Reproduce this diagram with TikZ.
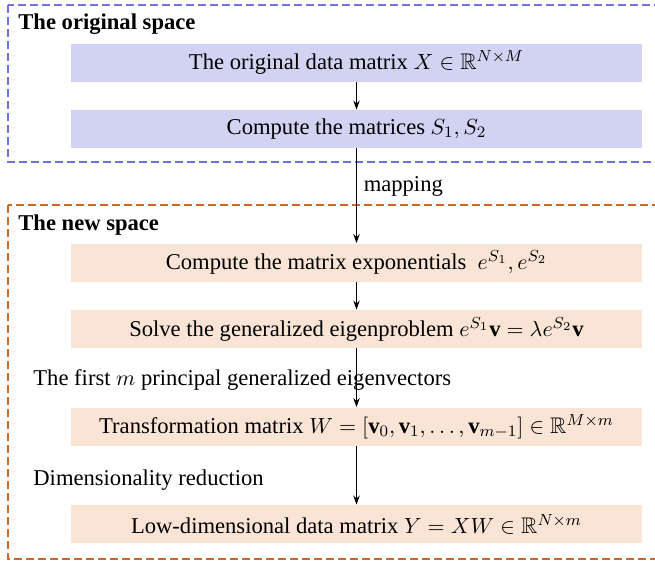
\documentclass[tikz,border=0pt]{standalone}
\usepackage{amsmath,amssymb}
\usepackage{fontspec}
\setmainfont{Liberation Serif}
\usetikzlibrary{arrows.meta, positioning}

\definecolor{origLine}{RGB}{112,112,226}
\definecolor{origFill}{RGB}{210,210,243}
\definecolor{newLine}{RGB}{206,104,36}
\definecolor{newFill}{RGB}{250,228,214}

\begin{document}
\begin{tikzpicture}[
        x=0.5pt, y=-0.5pt,
        every node/.style={
            font=\fontsize{11.3}{13.5}\selectfont
        },
        space_frame/.style={
            line width=1pt,
            dash pattern=on 4pt off 2pt
        },
        step_box/.style={
            rectangle,
            minimum width=285.5pt,
            minimum height=19pt,
            inner sep=0pt
        },
        orig_box/.style={
            step_box,
            fill=origFill
        },
        new_box/.style={
            step_box,
            fill=newFill
        },
        title_text/.style={
            anchor=west,
            inner sep=0pt,
            font=\fontsize{11.3}{13.5}\selectfont\bfseries
        },
        side_text/.style={
            anchor=west,
            inner sep=0pt
        },
        arrow_style/.style={
            -{Stealth[length=4.5pt, width=3.2pt]},
            line width=0.6pt
        }
    ]
        \useasboundingbox (0,0) rectangle (655,563);
        % the two spaces (cut off at the right edge)
        \draw[space_frame, origLine] (8,5) rectangle (664,162);
        \draw[space_frame, newLine] (8,205) rectangle (664,559);
        \node[title_text] (orig_title) at (18,24) {The original space};
        \node[title_text] (new_title) at (18,225) {The new space};

        % steps
        \node[orig_box] (orig_data) at (356.5,62.5) {The original data matrix $X \in \mathbb{R}^{N\times M}$};
        \node[orig_box] (comp_s) at (356.5,129) {Compute the matrices $S_1, S_2$};
        \node[new_box] (comp_exp) at (356.5,262.5) {Compute the matrix exponentials \ $e^{S_1}, e^{S_2}$};
        \node[new_box] (solve_eig) at (356.5,329) {Solve the generalized eigenproblem $e^{S_1}\mathbf{v} = \lambda e^{S_2}\mathbf{v}$};
        \node[new_box] (trans_w) at (356.5,426.5) {Transformation matrix $W = [\mathbf{v}_0, \mathbf{v}_1, \dots, \mathbf{v}_{m-1}] \in \mathbb{R}^{M\times m}$};
        \node[new_box] (low_dim) at (356.5,524) {Low-dimensional data matrix $Y = XW \in \mathbb{R}^{N\times m}$};

        \node[side_text] (first_m) at (33,380) {The first $m$ principal generalized eigenvectors};
        \node[side_text] (dim_red) at (33,480) {Dimensionality reduction};

        \draw[arrow_style] (orig_data) -- (comp_s);
        \draw[arrow_style] (comp_s) -- node[right, pos=0.4] {mapping} (comp_exp);
        \draw[arrow_style] (comp_exp) -- (solve_eig);
        \draw[arrow_style] (solve_eig) -- (trans_w);
        \draw[arrow_style] (trans_w) -- (low_dim);
    \end{tikzpicture}
\end{document}
